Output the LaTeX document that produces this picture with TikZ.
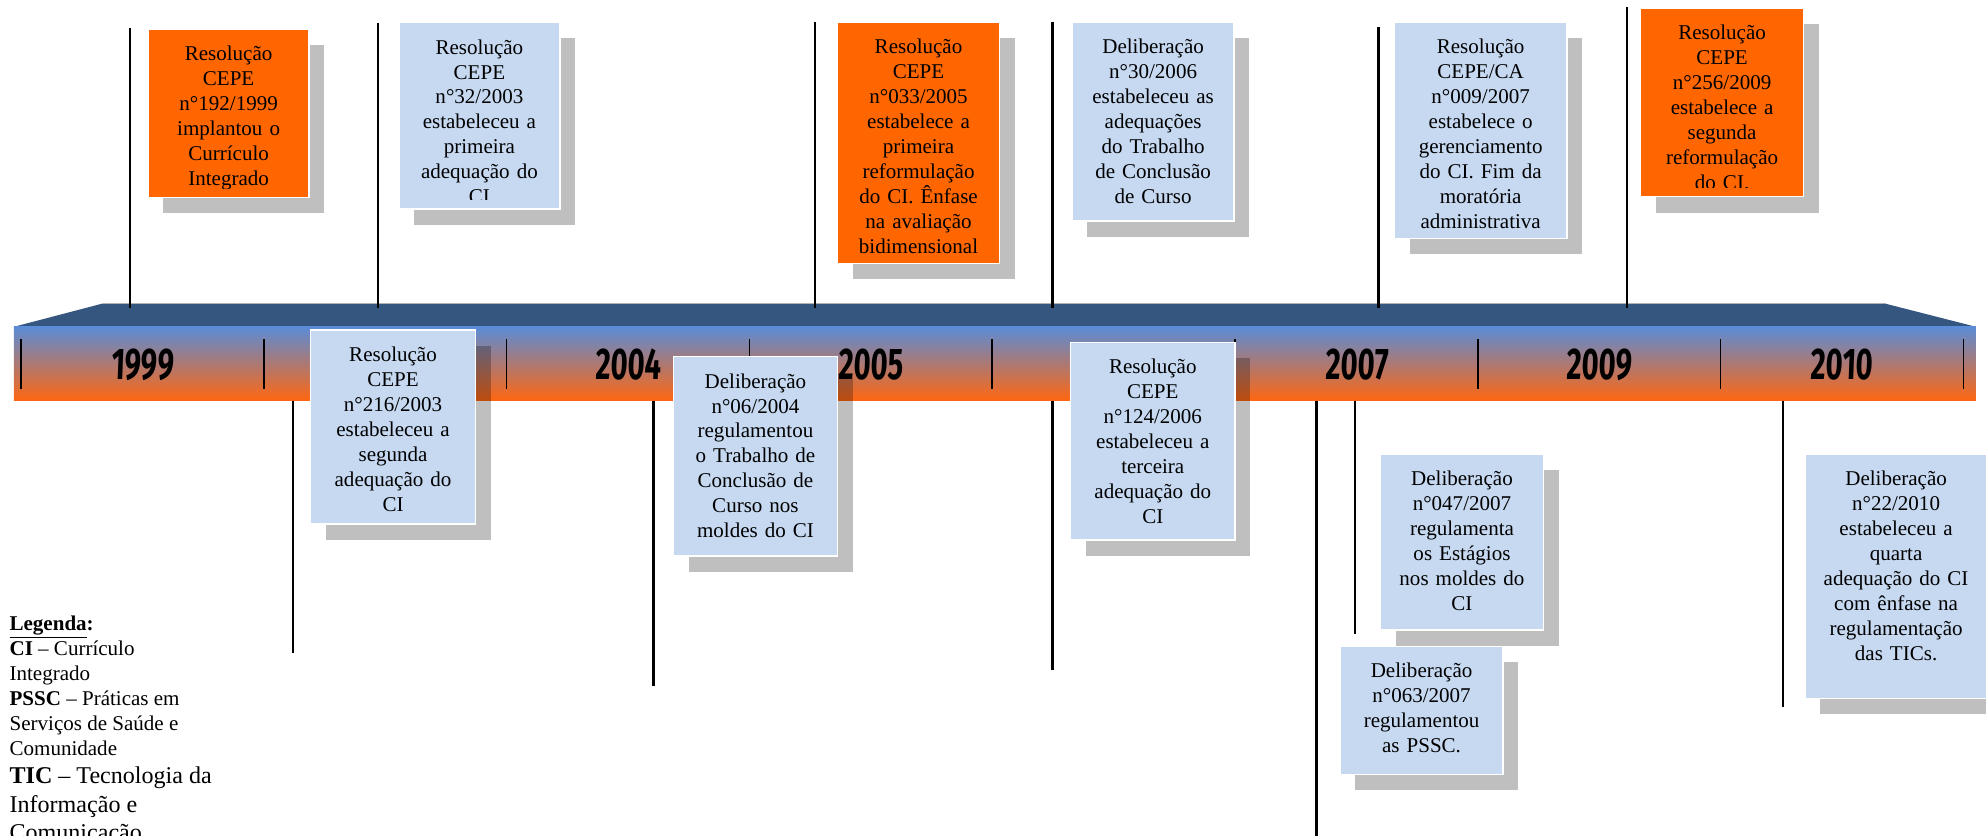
\documentclass[tikz,border=0pt]{standalone}
\usepackage{fontspec}
\setmainfont{Liberation Serif}
\newfontfamily\yearfont{Fira Sans}[FakeSlant=0.06]
\usetikzlibrary{calc}
\definecolor{evorange}{RGB}{255,102,0}
\definecolor{evblue}{RGB}{198,217,241}
\definecolor{bartopc}{RGB}{52,86,127}
\definecolor{barblue}{RGB}{90,140,214}
\definecolor{barmid}{RGB}{178,124,168}
\definecolor{barorange}{RGB}{255,102,16}
\tikzset{
 evbox/.style={draw=white, line width=1.2pt, inner sep=0pt, outer sep=0pt},
 evtext/.style={anchor=north, inner sep=0pt, text width=140pt, align=center, font=\fontsize{16.6}{19.7}\selectfont},
 shadowfill/.style={fill=black, fill opacity=0.25},
 conn/.style={line width=1.8pt, black},
 barTick/.style={line width=1.2pt, black},
 yearlbl/.style={inner sep=0pt, font=\yearfont\bfseries\fontsize{35}{35}\selectfont},
 legA/.style={anchor=north west, inner sep=0pt, font=\fontsize{16.6}{19.7}\selectfont},
 legB/.style={anchor=north west, inner sep=0pt, font=\fontsize{19}{22.4}\selectfont},
}
% name, left, top, width, height, fill, text
\newcommand\evbox[7]{%
 \pgfmathsetmacro\bxR{#2+#4}%
 \pgfmathsetmacro\bxB{#3+#5}%
 \pgfmathsetmacro\bxC{#2+#4/2}%
 \pgfmathsetmacro\bxT{#3+10.8}%
 \pgfmathsetmacro\bxK{#3+#5-7}%
 \fill[shadowfill] (#2+12,#3+12.5) rectangle (\bxR+12,\bxB+12.5);
 \node[evbox, fill=#6, minimum width=#4pt, minimum height=#5pt, anchor=north west] (#1) at (#2,#3) {};
 \begin{scope}
  \clip (#2,#3) rectangle (\bxR,\bxK);
  \node[evtext] (#1-txt) at (\bxC,\bxT) {\strut #7};
 \end{scope}}
\begin{document}
\begin{tikzpicture}[x=1pt,y=-1pt]
\useasboundingbox (0,0) rectangle (1568,660);
\clip (0,0) rectangle (1568,660);
% timeline bar
\fill[bartopc] (81.6,239.5) -- (1487.6,239.5) -- (1560,258) -- (11,258) -- cycle;
\draw[line width=0.6pt, color=gray!60] (81.6,239.5) -- (1487.6,239.5);
\shade[top color=barblue, middle color=barmid, bottom color=barorange] (11,258) rectangle (1560,316.4);
% year labels
\node[yearlbl] (yr1999) at (112.4,288) {\scalebox{0.66}[1]{1999}};
\node[yearlbl] (yr2004) at (496,288) {\scalebox{0.66}[1]{2004}};
\node[yearlbl] (yr2005) at (687.7,288) {\scalebox{0.66}[1]{2005}};
\node[yearlbl] (yr2007) at (1071,288) {\scalebox{0.66}[1]{2007}};
\node[yearlbl] (yr2009) at (1262.7,288) {\scalebox{0.66}[1]{2009}};
\node[yearlbl] (yr2010) at (1454,288) {\scalebox{0.66}[1]{2010}};
% ticks
\foreach \k in {0,...,8}{
 \draw[barTick] ({16.6+191.7*\k},268) -- ({16.6+191.7*\k},307);
}
% connector lines (top)
\coordinate (t1a) at (102.5,22.4);  \coordinate (t1b) at (102.5,243);
\coordinate (t2a) at (298.3,17.9);  \coordinate (t2b) at (298.3,243);
\coordinate (t3a) at (643.5,17);    \coordinate (t3b) at (643.5,243);
\coordinate (t4a) at (831,17);      \coordinate (t4b) at (831,243);
\coordinate (t5a) at (1088.4,21.6); \coordinate (t5b) at (1088.4,243);
\coordinate (t6a) at (1284.6,5.8);  \coordinate (t6b) at (1284.6,243);
\foreach \i in {1,...,6}{ \draw[conn] (t\i a) -- (t\i b); }
% connector lines (bottom)
\coordinate (u1a) at (231.6,316.4); \coordinate (u1b) at (231.6,515.8);
\coordinate (u2a) at (516,316.4);   \coordinate (u2b) at (516,541.6);
\coordinate (u3a) at (831,316.4);   \coordinate (u3b) at (831,529);
\coordinate (u4a) at (1039.5,316.4);\coordinate (u4b) at (1039.5,662);
\coordinate (u5a) at (1069.8,316.4);\coordinate (u5b) at (1069.8,500.6);
\coordinate (u6a) at (1407.8,316.4);\coordinate (u6b) at (1407.8,558.4);
\foreach \i in {1,...,6}{ \draw[conn] (u\i a) -- (u\i b); }
% event boxes
\evbox{b1}{117}{22.9}{127}{133}{evorange}{Resolução\\CEPE\\n°192/1999\\implantou o\\Currículo\\Integrado}
\evbox{b2}{315}{17.9}{127}{147}{evblue}{Resolução\\CEPE\\n°32/2003\\estabeleceu a\\primeira\\adequação do\\CI}
\evbox{b3}{661.4}{17.6}{127.6}{190.4}{evorange}{Resolução\\CEPE\\n°033/2005\\estabelece a\\primeira\\reformulação\\do CI. Ênfase\\na avaliação\\bidimensional}
\evbox{b4}{846.4}{17.6}{128}{157}{evblue}{Deliberação\\n°30/2006\\estabeleceu as\\adequações\\do Trabalho\\de Conclusão\\de Curso}
\evbox{b5}{1101}{17.6}{136}{170.6}{evblue}{Resolução\\CEPE/CA\\n°009/2007\\estabelece o\\gerenciamento\\do CI. Fim da\\moratória\\administrativa}
\evbox{b6}{1295.3}{6.3}{128.7}{149}{evorange}{Resolução\\CEPE\\n°256/2009\\estabelece a\\segunda\\reformulação\\do CI.}
\evbox{b7}{245.3}{260.5}{130}{153.2}{evblue}{Resolução\\CEPE\\n°216/2003\\estabeleceu a\\segunda\\adequação do\\CI}
\evbox{b8}{531.7}{281.6}{129.5}{157.4}{evblue}{Deliberação\\n°06/2004\\regulamentou\\o Trabalho de\\Conclusão de\\Curso nos\\moldes do CI}
\evbox{b9}{845.3}{270.3}{129.7}{156}{evblue}{Resolução\\CEPE\\n°124/2006\\estabeleceu a\\terceira\\adequação do\\CI}
\evbox{b10}{1058}{510}{128.7}{101.4}{evblue}{Deliberação\\n°063/2007\\regulamentou\\as PSSC.}
\evbox{b11}{1090}{358.4}{128.5}{139}{evblue}{Deliberação\\n°047/2007\\regulamenta\\os Estágios\\nos moldes do\\CI}
\evbox{b12}{1425}{358.4}{144}{193}{evblue}{Deliberação\\n°22/2010\\estabeleceu a\\quarta\\adequação do CI\\com ênfase na\\regulamentação\\das TICs.}
% legend
\node[legA] (legA) at (7.4,484) {\begin{tabular}{@{}l@{}}\textbf{\underline{Legenda}:}\\\textbf{CI} -- Currículo\\Integrado\\\textbf{PSSC} -- Práticas em\\Serviços de Saúde e\\Comunidade\end{tabular}};
\node[legB] (legB) at (7.4,602.9) {\begin{tabular}{@{}l@{}}\textbf{TIC} -- Tecnologia da\\Informação e\\Comunicação\end{tabular}};
\end{tikzpicture}
\end{document}
